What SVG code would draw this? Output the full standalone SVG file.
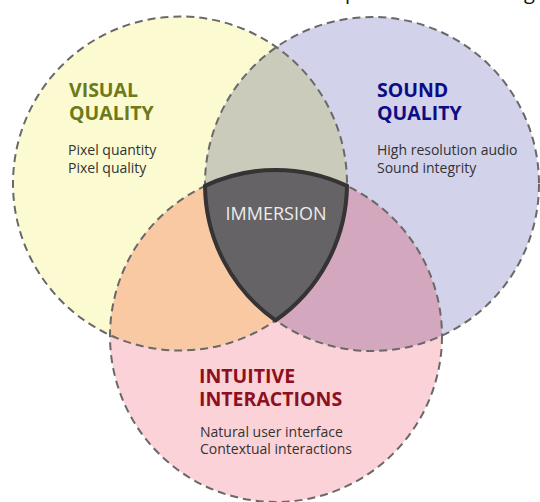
<svg xmlns="http://www.w3.org/2000/svg" width="540" height="502" viewBox="0 0 540 502">
  <style>
    .outline { fill: none; stroke: #6a6868; stroke-width: 2; stroke-dasharray: 8 5; }
    .head { font-family: "Open Sans", "Noto Sans", "Liberation Sans", sans-serif; font-weight: 700; font-size: 19.5px; }
    .body { font-family: "Open Sans", "Noto Sans", "Liberation Sans", sans-serif; font-size: 14px; fill: #333333; }
    .cut { font-family: "Open Sans", "Liberation Sans", sans-serif; font-size: 20px; fill: #111111; }
  </style>
  <defs>
    <circle id="cY" cx="180" cy="183.5" r="167"/>
    <circle id="cB" cx="372" cy="184" r="167"/>
    <circle id="cP" cx="276" cy="336" r="166"/>
    <clipPath id="clipY"><use href="#cY"/></clipPath>
    <clipPath id="clipB"><use href="#cB"/></clipPath>
  </defs>

  <rect width="540" height="502" fill="#ffffff"/>

  <!-- descenders of a heading line running off the top edge -->
  <text class="cut" x="345" y="-1">p</text>
  <text class="cut" x="524" y="-1">g</text>

  <!-- base discs -->
  <use href="#cY" fill="#fbfad0"/>
  <use href="#cB" fill="#d2d2ea"/>
  <use href="#cP" fill="#fbd2d7"/>

  <!-- pairwise overlaps -->
  <g clip-path="url(#clipY)">
    <use href="#cB" fill="#cbcbbb"/>
    <use href="#cP" fill="#f8c9a2"/>
  </g>
  <g clip-path="url(#clipB)">
    <use href="#cP" fill="#d3a7bd"/>
  </g>

  <!-- dashed circle outlines -->
  <use href="#cY" class="outline"/>
  <use href="#cB" class="outline"/>
  <use href="#cP" class="outline"/>

  <g id="visual">
    <text class="head" fill="#6d7a1a"><tspan x="69" y="97">VISUAL</tspan><tspan x="69" y="120">QUALITY</tspan></text>
    <text class="body"><tspan x="68" y="155">Pixel quantity</tspan><tspan x="68" y="173">Pixel quality</tspan></text>
  </g>

  <g id="sound">
    <text class="head" fill="#0c0c84"><tspan x="377" y="97">SOUND</tspan><tspan x="377" y="120">QUALITY</tspan></text>
    <text class="body"><tspan x="377" y="155">High resolution audio</tspan><tspan x="377" y="173">Sound integrity</tspan></text>
  </g>

  <g id="interactions">
    <text class="head" fill="#8c1020"><tspan x="199" y="383">INTUITIVE</tspan><tspan x="199" y="406">INTERACTIONS</tspan></text>
    <text class="body"><tspan x="200" y="437">Natural user interface</tspan><tspan x="200" y="454">Contextual interactions</tspan></text>
  </g>

  <g id="immersion">
    <path d="M205,185.9 A166,166 0 0 1 347,185.9 A167,167 0 0 1 275.6,320.4 A167,167 0 0 1 205,185.9 Z"
          fill="#656365" stroke="#353334" stroke-width="4" stroke-linejoin="miter"/>
    <text x="276" y="220" text-anchor="middle" font-family="Open Sans, Noto Sans, Liberation Sans, sans-serif" font-size="18px" fill="#ececec">IMMERSION</text>
  </g>
</svg>
